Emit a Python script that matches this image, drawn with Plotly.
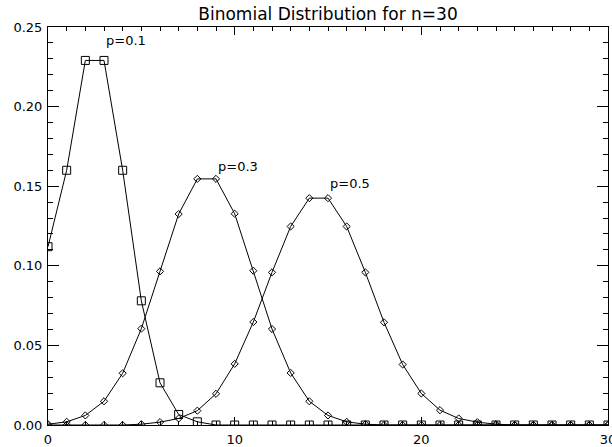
import plotly.graph_objects as go

x_vals = list(range(31))

p01 = [0.112, 0.160, 0.229, 0.229, 0.160, 0.078, 0.0265, 0.0066, 0.002,
       0, 0, 0, 0, 0, 0, 0, 0, 0, 0, 0, 0, 0, 0, 0, 0, 0, 0, 0, 0, 0, 0]
p03 = [0.0005, 0.002, 0.006, 0.0149, 0.0325, 0.0605, 0.0965, 0.1325, 0.1546,
       0.1546, 0.1327, 0.0969, 0.0603, 0.0327, 0.0149, 0.006, 0.002, 0.0005,
       0, 0, 0, 0, 0, 0, 0, 0, 0, 0, 0, 0, 0]
p05 = [0, 0, 0, 0, 0, 0.0005, 0.0018, 0.0041, 0.009, 0.0196, 0.0384, 0.0647,
       0.0959, 0.1247, 0.1425, 0.1425, 0.1247, 0.0959, 0.0645, 0.038, 0.0198,
       0.0093, 0.0041, 0.0018, 0.0005, 0, 0, 0, 0, 0, 0]

labels = ["p=0.1", "p=0.3", "p=0.5"]
label_x = [3, 9, 15]
label_y = [0.2415, 0.1625, 0.152]

title_text = "Binomial Distribution for n=30"
x_ticks = [0, 10, 20, 30]
y_ticks = [0.0, 0.05, 0.10, 0.15, 0.20, 0.25]

FONT = "DejaVu Sans"

fig = go.Figure()
fig.add_trace(go.Scatter(x=x_vals, y=p01, mode="lines+markers",
                         line=dict(color="black", width=1),
                         marker=dict(symbol="square-open", size=8, color="black",
                                     line=dict(width=1, color="black")),
                         cliponaxis=True, showlegend=False))
for ser in (p03, p05):
    fig.add_trace(go.Scatter(x=x_vals, y=ser, mode="lines+markers",
                             line=dict(color="black", width=1),
                             marker=dict(symbol="diamond-open", size=5.5, color="black",
                                         line=dict(width=1, color="black")),
                             cliponaxis=True, showlegend=False))

for t, lx, ly in zip(labels, label_x, label_y):
    fig.add_annotation(x=lx, y=ly, text=t, showarrow=False, xanchor="left",
                       yanchor="middle", font=dict(family=FONT, size=13, color="black"))

axis_common = dict(showline=True, linecolor="black", linewidth=1, mirror="ticks",
                   ticks="inside", tickcolor="black", tickwidth=1, showgrid=False,
                   zeroline=False, automargin=False, ticklabeloverflow="allow",
                   tickfont=dict(family=FONT, size=13, color="black"))

fig.update_xaxes(range=[0, 30], tickvals=x_ticks, ticktext=[str(v) for v in x_ticks],
                 ticklen=8, ticklabelstandoff=2,
                 minor=dict(ticks="inside", ticklen=4, dtick=1, tickcolor="black", tickwidth=1),
                 **axis_common)
fig.update_yaxes(range=[0, 0.25], tickvals=y_ticks, ticktext=[f"{v:.2f}" for v in y_ticks],
                 ticklen=11, ticklabelstandoff=2,
                 minor=dict(ticks="inside", ticklen=5, dtick=0.01, tickcolor="black", tickwidth=1),
                 **axis_common)

fig.update_layout(
    width=612, height=447,
    margin=dict(l=48, r=4, t=27, b=22),
    paper_bgcolor="white", plot_bgcolor="white",
    title=dict(text=title_text, x=0.5, xref="paper", y=1 - 14/447, yanchor="middle",
               font=dict(family=FONT, size=17, color="black")),
)

fig.write_html("out.html", config={"displayModeBar": False},
               post_script="document.body.style.margin='0';document.body.style.overflow='hidden';")
